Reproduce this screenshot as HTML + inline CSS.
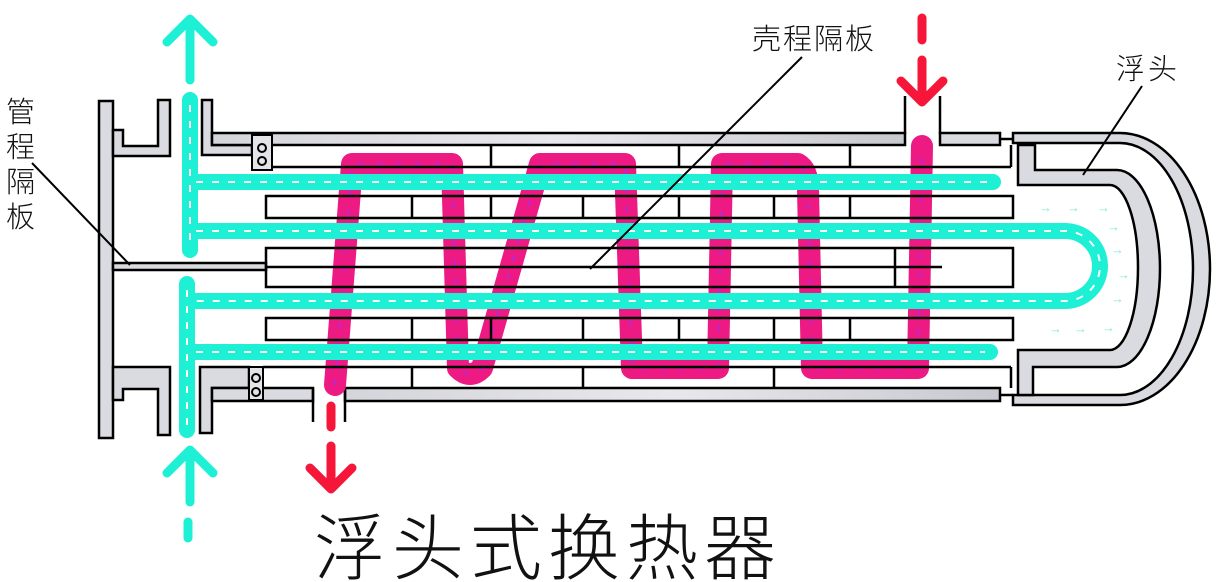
<!DOCTYPE html>
<html><head><meta charset="utf-8"><style>
html,body{margin:0;padding:0;background:#fff;}
svg{display:block;}
text{font-family:"Liberation Sans","Noto Sans CJK SC",sans-serif;}
</style></head><body>
<svg width="1219" height="582" viewBox="0 0 1219 582" xmlns="http://www.w3.org/2000/svg">
<defs>
<linearGradient id="g" x1="0" y1="0" x2="1" y2="0"><stop offset="0" stop-color="#d4d5da"/><stop offset="0.5" stop-color="#e8e8ec"/><stop offset="1" stop-color="#c8c9cf"/></linearGradient>
</defs>
<g stroke="#000" stroke-width="2.5" fill="#dadbe0">
<!-- tube sheet -->
<rect x="99" y="101" width="14" height="337"/>
<path d="M113,130 H123 V146 H158 V100 H170 V156 H113 Z"/>
<path d="M113,367 H170 V435 H158 V389 H123 V400 H113 Z"/>
<rect x="113" y="263" width="153" height="7"/>
<!-- shell L brackets -->
<path d="M202,100 H212 V145 H252 V155 H202 Z"/>
<path d="M200,367 H249 V388 H212 V433 H200 Z"/>
<!-- shell bands -->
<rect x="212" y="133" width="693" height="12" fill="url(#g)"/>
<rect x="940" y="133" width="60" height="12"/>
<rect x="212" y="388" width="101" height="13"/>
<rect x="345" y="388" width="655" height="13" fill="url(#g)"/>
<!-- outer head -->
<path d="M1013,133 H1120 A90,136 0 0 1 1120,405 H1013 V395 H1120 A73,126 0 0 0 1120,143 H1013 Z"/>
<!-- floating head -->
<path d="M1018,145 H1035 V170 H1117 A43,98.5 0 0 1 1117,367 H1033 V395 H1018 V350 H1110 A28,82.5 0 0 0 1110,185 H1018 Z"/>
</g>
<g stroke="#000" stroke-width="2.5" fill="none">
<line x1="1000" y1="139" x2="1013" y2="139"/>
<line x1="1000" y1="395" x2="1013" y2="395"/>
<line x1="905" y1="96" x2="905" y2="134"/><line x1="940" y1="96" x2="940" y2="134"/>
<line x1="313" y1="388" x2="313" y2="422"/><line x1="345" y1="388" x2="345" y2="422"/>
</g>
<!-- bolt blocks -->
<g stroke="#000" stroke-width="2" fill="#e4e4e8">
<rect x="252" y="135" width="20" height="35"/>
<circle cx="262" cy="148" r="4"/><circle cx="262" cy="161" r="4"/>
<rect x="249" y="367" width="14" height="33"/>
<circle cx="256" cy="378" r="4"/><circle cx="256" cy="392" r="4"/>
</g>
<!-- magenta shell flow -->
<path d="M335,385 L352,164 L452,164 L458,368 Q470,380 482,368 L540,164 L625,164 L632,368 L718,368 L722,164 L798,164 Q808,170 808,190 L812,368 L918,368 L922,146" fill="none" stroke="#ec1a82" stroke-width="22" stroke-linecap="round" stroke-linejoin="round"/>
<path d="M335,385 L352,164 L452,164 L458,368 Q470,380 482,368 L540,164 L625,164 L632,368 L718,368 L722,164 L798,164 Q808,170 808,190 L812,368 L918,368 L922,146" fill="none" stroke="#a030ff" stroke-width="2" stroke-dasharray="5 14" opacity="0.7"/>
<!-- cyan tube flow -->
<g fill="none" stroke="#1ef0d6" stroke-width="16" stroke-linecap="round">
<line x1="190" y1="100" x2="190" y2="250"/>
<line x1="187" y1="284" x2="187" y2="430"/>
<line x1="190" y1="182" x2="993" y2="182"/>
<line x1="187" y1="352" x2="990" y2="352"/>
<path d="M190,231 H1065 A35,35 0 0 1 1065,301 H187"/>
</g>
<g fill="none" stroke="#fff" stroke-width="2" stroke-dasharray="7 9">
<line x1="190" y1="105" x2="190" y2="245"/>
<line x1="187" y1="290" x2="187" y2="428"/>
<line x1="196" y1="182" x2="990" y2="182"/>
<line x1="196" y1="352" x2="985" y2="352"/>
<path d="M196,231 H1065 A35,35 0 0 1 1065,301 H196"/>
</g>
<!-- tube rows / baffles -->
<g stroke="#000" stroke-width="2.5" fill="none">
<rect x="266" y="196" width="747" height="22"/>
<rect x="266" y="248" width="747" height="39"/>
<rect x="266" y="318" width="747" height="22"/>
<line x1="266" y1="267" x2="942" y2="267"/>
<line x1="895" y1="248" x2="895" y2="287"/>
<line x1="272" y1="167" x2="1011" y2="167"/><line x1="1011" y1="145" x2="1011" y2="167"/>
<line x1="263" y1="367" x2="1011" y2="367"/><line x1="1011" y1="367" x2="1011" y2="388"/>
<path d="M412,196V218M491,196V218M583,196V218M679,196V218M774,196V218M850,196V218"/>
<path d="M412,318V340M491,318V340M583,318V340M679,318V340M774,318V340M850,318V340"/>
<path d="M491,145V167M679,145V167M850,145V167"/>
<path d="M412,367V388M583,367V388M774,367V388"/>
</g>
<!-- small cyan arrows -->
<g fill="#7fe9df" font-size="13">
<text x="1039" y="212">→</text><text x="1067" y="212">→</text><text x="1097" y="212">→</text>
<text x="1107" y="231">→</text><text x="1111" y="254">→</text><text x="1117" y="279">→</text>
<text x="1111" y="303">→</text><text x="1049" y="333">→</text><text x="1074" y="333">→</text><text x="1102" y="332">→</text>
</g>
<!-- big arrows -->
<g fill="none" stroke="#1ef0d6" stroke-width="9" stroke-linecap="round" stroke-linejoin="round">
<line x1="190" y1="20" x2="190" y2="80"/><path d="M167,42 L190,19 L213,42"/>
<line x1="190" y1="452" x2="190" y2="502"/><path d="M167,473 L190,450 L213,473"/>
<line x1="188" y1="522" x2="188" y2="538"/>
</g>
<g fill="none" stroke="#f5163a" stroke-width="9" stroke-linecap="round" stroke-linejoin="round">
<line x1="922" y1="18" x2="922" y2="40"/><line x1="922" y1="60" x2="922" y2="100"/><path d="M901,81 L922,102 L943,81"/>
<line x1="331" y1="406" x2="331" y2="427"/><line x1="331" y1="446" x2="331" y2="488"/><path d="M310,468 L331,489 L352,468"/>
</g>
<!-- leaders -->
<g stroke="#000" stroke-width="2" fill="none">
<line x1="32" y1="163" x2="130" y2="265"/>
<line x1="802" y1="57" x2="590" y2="269"/>
<line x1="1142" y1="86" x2="1083" y2="175"/>
</g>
<!-- labels -->
<g fill="#111" font-size="29" font-weight="300">
<text x="6" y="122">管</text><text x="6" y="157">程</text><text x="6" y="192">隔</text><text x="6" y="227">板</text>
<text x="752" y="49" letter-spacing="2">壳程隔板</text>
<text x="1116" y="79" letter-spacing="3">浮头</text>
</g>
<text x="314" y="574" font-size="72" font-weight="300" letter-spacing="6" fill="#111">浮头式换热器</text>
</svg>
</body></html>
